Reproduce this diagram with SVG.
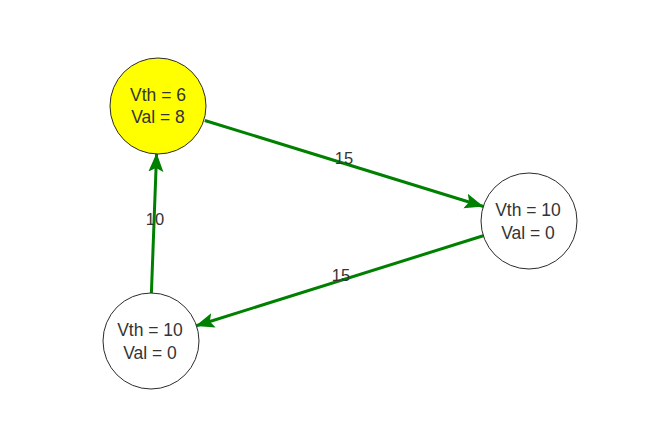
<svg xmlns="http://www.w3.org/2000/svg" width="666" height="431" viewBox="0 0 666 431">
<style>
.node circle{stroke:#2b2b2b;stroke-width:1}
.node text{font-family:"Liberation Sans",Arial,sans-serif;font-size:17.5px;fill:#343434;text-anchor:middle}
.edge{stroke:#008000;stroke-width:3;fill:none;marker-end:url(#arrow)}
.elabel{font-family:"Liberation Sans",Arial,sans-serif;font-size:16.5px;fill:#343434;text-anchor:middle}
</style>
<defs>
<marker id="arrow" markerUnits="userSpaceOnUse" markerWidth="20" markerHeight="16" refX="15" refY="6" orient="auto" viewBox="0 0 16 12">
<path d="M0,0 L15,6 L0,12 L3,6 Z" fill="#008000"/>
</marker>
</defs>
<rect width="666" height="431" fill="#ffffff"/>
<g id="edges">
<line class="edge" x1="204.8" y1="120.5" x2="483.5" y2="206.5"/>
<line class="edge" x1="484" y1="235.5" x2="195.5" y2="326"/>
<line class="edge" x1="151.4" y1="293" x2="156.6" y2="153"/>
<text class="elabel" x="344" y="163.5">15</text>
<text class="elabel" x="341" y="281">15</text>
<text class="elabel" x="155" y="225">10</text>
</g>
<g id="n1" class="node">
<circle cx="158" cy="106" r="48" fill="#ffff00"/>
<text x="158" y="101">Vth = 6</text>
<text x="158" y="123">Val = 8</text>
</g>
<g id="n2" class="node">
<circle cx="529" cy="221" r="48" fill="#ffffff"/>
<text x="528" y="216">Vth = 10</text>
<text x="528" y="239">Val = 0</text>
</g>
<g id="n3" class="node">
<circle cx="151" cy="341" r="48" fill="#ffffff"/>
<text x="150" y="336">Vth = 10</text>
<text x="150" y="359">Val = 0</text>
</g>
</svg>
